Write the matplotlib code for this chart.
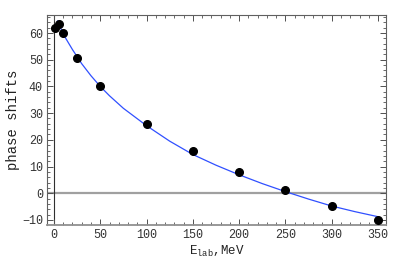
import matplotlib
matplotlib.use("Agg")
import matplotlib.pyplot as plt
from matplotlib.ticker import MultipleLocator

plt.rcParams['font.family'] = ['Liberation Mono', 'DejaVu Sans Mono']
plt.rcParams['mathtext.fontset'] = 'custom'
plt.rcParams['mathtext.rm'] = 'Liberation Mono'

# measured phase shifts
e_lab = [1, 5, 10, 25, 50, 100, 150, 200, 250, 300, 350]
delta = [62.0, 63.5, 59.9, 50.5, 40.0, 26.0, 15.9, 7.9, 1.1, -4.7, -10.0]

# fitted curve
fit_e = [4, 10, 20, 30, 40, 50, 60, 75, 100, 125, 150, 175, 200, 225, 250, 275, 300, 325, 350]
fit_d = [64.5, 59.6, 53.8, 48.5, 44.0, 40.0, 36.5, 31.8, 25.3, 19.5, 14.5, 10.5,
         6.9, 3.6, 0.6, -2.2, -4.8, -6.9, -8.8]

fig = plt.figure(figsize=(4, 2.61), dpi=100)
ax = fig.add_axes([0.1175, 0.139, 0.8475, 0.8035])

ax.axhline(0, color='#a0a0a0', lw=1.6, zorder=1)
ax.axvline(0, color='#303030', lw=0.8, zorder=1)
ax.plot(fit_e, fit_d, color='#3050ff', lw=0.9, zorder=2)
ax.plot(e_lab, delta, 'o', color='black', ms=5.5, zorder=3)

ax.set_xlim(-7.5, 358.6)
ax.set_ylim(-11.8, 66.75)
ax.xaxis.set_major_locator(MultipleLocator(50))
ax.xaxis.set_minor_locator(MultipleLocator(10))
ax.yaxis.set_major_locator(MultipleLocator(10))
ax.yaxis.set_minor_locator(MultipleLocator(2))
ax.tick_params(which='both', direction='in', top=True, right=True,
               color='#505050', labelsize=8.5, pad=3, labelcolor='#333333')
ax.tick_params(which='major', length=4, width=0.7)
ax.tick_params(which='minor', length=2, width=0.6)
for s in ax.spines.values():
    s.set_color('#606060')
    s.set_linewidth(0.8)
ax.spines['bottom'].set_color('#909090')
ax.spines['bottom'].set_linewidth(1.3)

ax.set_xlabel(r'E$_{\rm lab}$,MeV', fontsize=9, labelpad=2, color='#222222')
ax.set_ylabel('phase shifts', fontsize=10, labelpad=1, color='#222222')

fig.savefig('out.png', dpi=100)
